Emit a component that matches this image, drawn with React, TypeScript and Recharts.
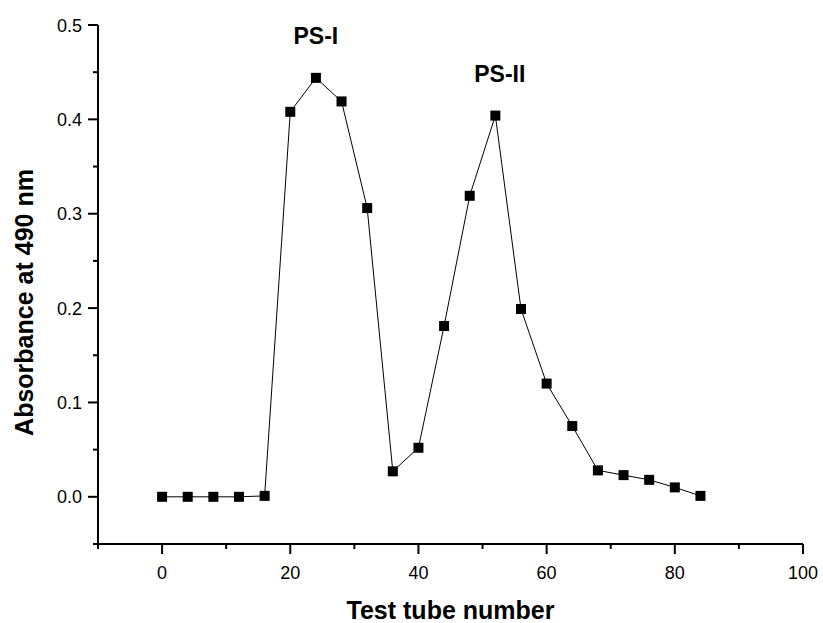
import { LineChart, Line, XAxis, YAxis, ReferenceDot } from 'recharts';

const TUBES = [0, 4, 8, 12, 16, 20, 24, 28, 32, 36, 40, 44, 48, 52, 56, 60, 64, 68, 72, 76, 80, 84];
const ABSORBANCE = [
  0, 0, 0, 0, 0.001, 0.408, 0.444, 0.419, 0.306, 0.027, 0.052, 0.181, 0.319, 0.404, 0.199, 0.12, 0.075,
  0.028, 0.023, 0.018, 0.01, 0.001,
];

const X_TICKS = [-10, 0, 10, 20, 30, 40, 50, 60, 70, 80, 90, 100];
const Y_TICKS = [-0.05, 0, 0.05, 0.1, 0.15, 0.2, 0.25, 0.3, 0.35, 0.4, 0.45, 0.5];

const PEAK_NAMES = ['PS-I', 'PS-II'];
const PEAK_X = [24, 52.7];
const PEAK_Y = [0.48, 0.44];

const data = TUBES.map((t, i) => ({ tube: t, abs: ABSORBANCE[i] }));

const FONT = "'Liberation Sans', Arial, sans-serif";

function XTick(props: any) {
  const { x, y, payload } = props;
  const v = payload.value;
  const major = v >= 0 && v % 20 === 0;
  return (
    <g>
      <line x1={x} y1={y} x2={x} y2={y + (major ? 10 : 5)} stroke="#000" strokeWidth={2} />
      {major && (
        <text x={x} y={y + 34.5} textAnchor="middle" fontSize={18} fontFamily={FONT} fill="#000">
          {v}
        </text>
      )}
    </g>
  );
}

function YTick(props: any) {
  const { x, y, payload } = props;
  const v = payload.value;
  const major = v >= 0 && Math.abs(v * 10 - Math.round(v * 10)) < 1e-6;
  return (
    <g>
      <line x1={x} y1={y} x2={x - (major ? 10 : 5)} y2={y} stroke="#000" strokeWidth={2} />
      {major && (
        <text x={x - 16} y={y + 6.5} textAnchor="end" fontSize={18} fontFamily={FONT} fill="#000">
          {v.toFixed(1)}
        </text>
      )}
    </g>
  );
}

function SquareDot(props: any) {
  const { cx, cy, index } = props;
  if (cx == null || cy == null) return null;
  return <rect key={index} x={cx - 5} y={cy - 5} width={10} height={10} fill="#000" />;
}

export default function App() {
  return (
    <div style={{ position: 'absolute', left: 0, top: 0, width: 823, height: 623, background: '#fff' }}>
      <LineChart width={823} height={623} data={data} margin={{ top: 25, right: 20, left: 0, bottom: 0 }}>
        <XAxis
          dataKey="tube"
          type="number"
          domain={[-10, 100]}
          ticks={X_TICKS}
          interval={0}
          height={79}
          tickSize={0}
          tickMargin={0}
          tickLine={false}
          tick={<XTick />}
          axisLine={{ stroke: '#000', strokeWidth: 2 }}
          label={(p: any) => {
            const vb = p.viewBox;
            return (
              <text
                x={vb.x + vb.width / 2}
                y={vb.y + 75}
                textAnchor="middle"
                fontSize={25}
                fontWeight="bold"
                fontFamily={FONT}
                fill="#000"
              >
                Test tube number
              </text>
            );
          }}
        />
        <YAxis
          type="number"
          domain={[-0.05, 0.5]}
          ticks={Y_TICKS}
          interval={0}
          width={98}
          tickSize={0}
          tickMargin={0}
          tickLine={false}
          tick={<YTick />}
          axisLine={{ stroke: '#000', strokeWidth: 2 }}
          label={(p: any) => {
            const vb = p.viewBox;
            const cx = vb.x + 33;
            const cy = vb.y + vb.height / 2 + 18;
            return (
              <text
                x={cx}
                y={cy}
                transform={`rotate(-90 ${cx} ${cy})`}
                textAnchor="middle"
                fontSize={25}
                fontWeight="bold"
                fontFamily={FONT}
                fill="#000"
              >
                Absorbance at 490 nm
              </text>
            );
          }}
        />
        <Line
          type="linear"
          dataKey="abs"
          stroke="#000"
          strokeWidth={1}
          dot={<SquareDot />}
          activeDot={false}
          isAnimationActive={false}
        />
        {PEAK_NAMES.map((name, i) => (
          <ReferenceDot
            key={name}
            x={PEAK_X[i]}
            y={PEAK_Y[i]}
            r={1}
            fill="none"
            stroke="none"
            label={(p: any) => {
              const vb = p.viewBox;
              return (
                <text
                  x={vb.x + vb.width / 2}
                  y={vb.y + vb.height / 2}
                  textAnchor="middle"
                  fontSize={23}
                  fontWeight="bold"
                  fontFamily={FONT}
                  fill="#000"
                >
                  {name}
                </text>
              );
            }}
          />
        ))}
      </LineChart>
    </div>
  );
}
